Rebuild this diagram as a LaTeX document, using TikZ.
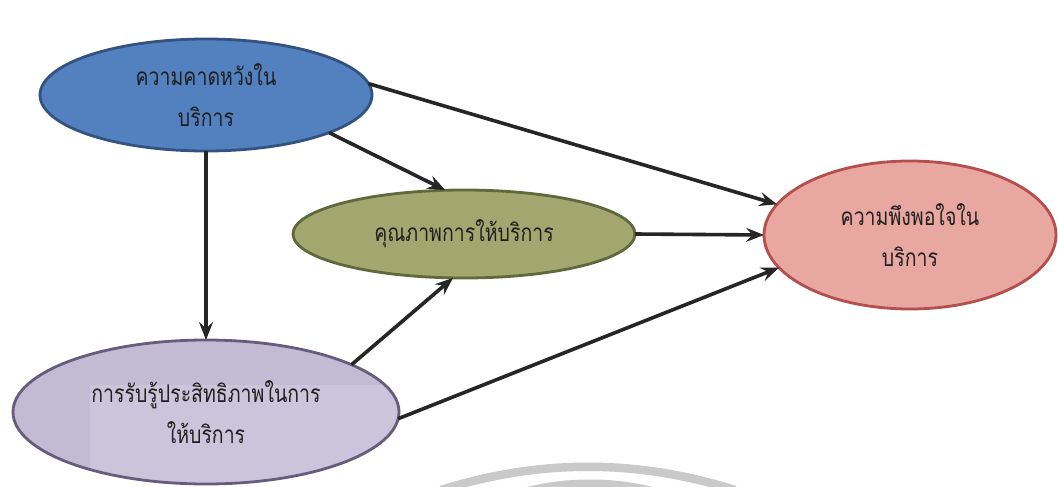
\documentclass[tikz,border=0pt]{standalone}
\usepackage{graphicx}
\usepackage{fontspec}
\newfontfamily\thaifont[Script=Thai]{Loma}
\usetikzlibrary{shapes.geometric,arrows.meta}
\definecolor{bluefill}{HTML}{5381C0}
\definecolor{blueline}{HTML}{34527F}
\definecolor{olivefill}{HTML}{A3A66F}
\definecolor{oliveline}{HTML}{5E6A3C}
\definecolor{pinkfill}{HTML}{E8A7A1}
\definecolor{pinkline}{HTML}{B44F4D}
\definecolor{purplefill}{HTML}{C3BAD4}
\definecolor{purplelight}{HTML}{CBC5DB}
\definecolor{purpleline}{HTML}{685C7E}
\definecolor{arrowcol}{HTML}{262626}
\definecolor{wmgray}{HTML}{C9C9C9}
\newcommand{\tallline}[1]{\scalebox{1}[1.25]{#1}}
\tikzset{
  bub/.style={ellipse, line width=2.8pt, inner sep=0pt, outer sep=0pt, align=center,
    font={\thaifont\fontsize{19.5}{41}\selectfont}, text=black!88},
  conn/.style={draw=arrowcol, line width=3.6pt,
    -{Stealth[length=18pt,width=14pt,inset=6.5pt]}},
  wm/.style={draw=wmgray, line width=8.5pt}
}
\begin{document}
\begin{tikzpicture}[x=1pt,y=-1pt]
\useasboundingbox (0,0) rectangle (1058,487);
\fill[white] (0,0) rectangle (1058,487);
% watermark arcs
\begin{scope}
\clip (0,0) rectangle (1058,487);
\draw[wm] (441,490) .. controls (540,459) and (636,459) .. (735,490);
\draw[wm] (515,495) .. controls (560,480) and (620,480) .. (665,495);
\end{scope}
% nodes
\node[bub, fill=bluefill, draw=blueline, minimum width=332pt, minimum height=112pt]
  (exp) at (206,95) {\tallline{ความคาดหวังใน}\\\tallline{บริการ}};
\node[bub, fill=olivefill, draw=oliveline, minimum width=342pt, minimum height=88pt]
  (qual) at (464,234) {\tallline{คุณภาพการให้บริการ}};
\node[bub, fill=pinkfill, draw=pinkline, minimum width=292pt, minimum height=148pt]
  (sat) at (910,235) {\tallline{ความพึงพอใจใน}\\\tallline{บริการ}};
\node[bub, fill=purplefill, draw=purpleline, minimum width=386pt, minimum height=144pt,
  path picture={\fill[purplelight] ([xshift=77pt,yshift=27pt]path picture bounding box.west)
     rectangle (path picture bounding box.south east);}]
  (perc) at (206,412) {\tallline{การรับรู้ประสิทธิภาพในการ}\\\tallline{ให้บริการ}};
% connectors
\draw[conn] (exp.south) -- (perc.north);
\draw[conn] (exp.343) -- (qual.113);
\draw[conn] (exp.4) -- (sat.167);
\draw[conn] (qual.east) -- (sat.west);
\draw[conn] (perc.18) -- (qual.256);
\draw[conn] (perc.-2) -- (sat.194);
\end{tikzpicture}
\end{document}
